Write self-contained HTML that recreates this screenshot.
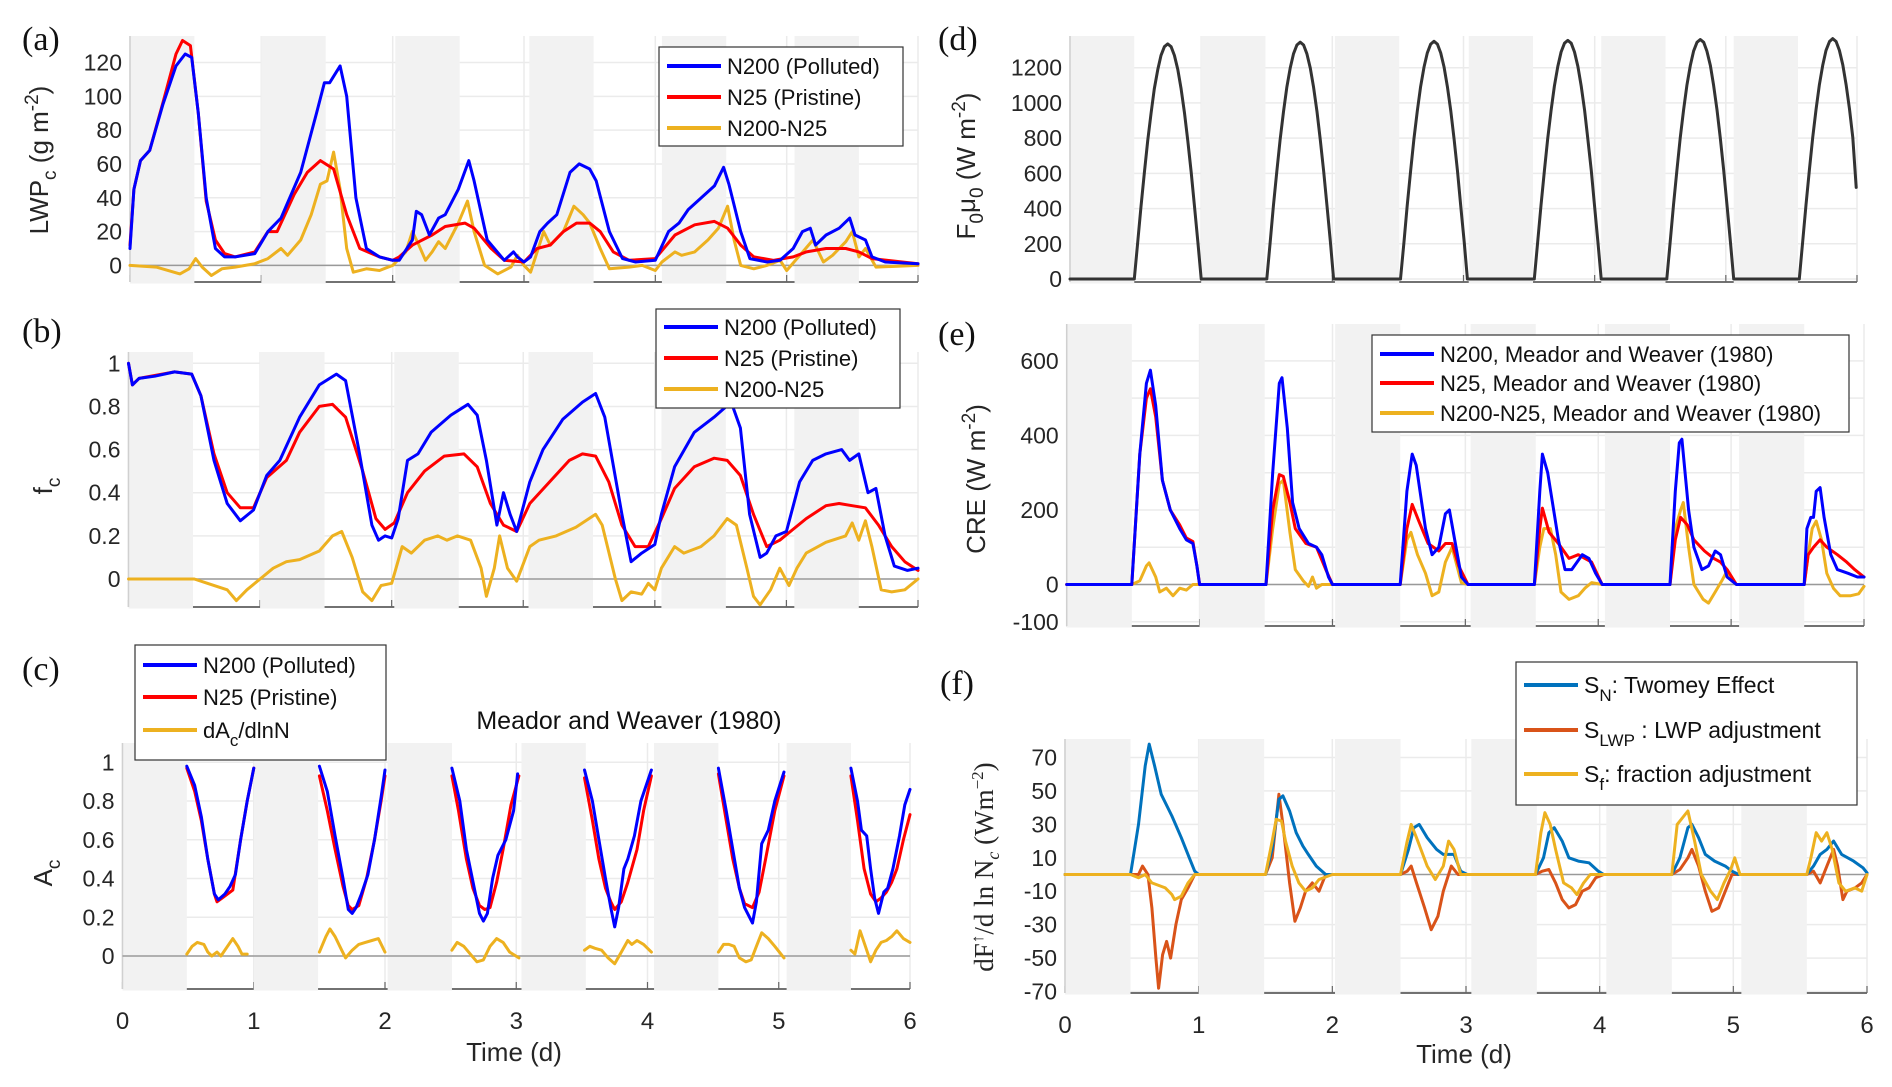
<!DOCTYPE html>
<html><head><meta charset="utf-8">
<style>
html,body{margin:0;padding:0;background:#fff;}
svg{display:block;font-family:"Liberation Sans",sans-serif;}
</style></head>
<body>
<svg id="fig" width="1892" height="1087" viewBox="0 0 1892 1087" xmlns="http://www.w3.org/2000/svg"></svg>
<script>
// ---------- DATA ----------
const bandStarts = [0, 1.0, 2.02, 3.04, 4.05, 5.06];
const bandWidth = 0.49;
const xTicks = [0,1,2,3,4,5,6];

// (a) LWP
const aTicks = [0,20,40,60,80,100,120];
const aBlueT = [0,0.03,0.08,0.15,0.25,0.35,0.42,0.47,0.52,0.58,0.65,0.72,0.8,0.95,1.05,1.15,1.3,1.42,1.48,1.52,1.6,1.65,1.72,1.8,1.9,2.0,2.05,2.15,2.18,2.22,2.28,2.35,2.4,2.5,2.58,2.62,2.72,2.85,2.92,2.95,3.0,3.05,3.12,3.18,3.25,3.35,3.42,3.5,3.55,3.65,3.75,3.85,4.0,4.1,4.18,4.25,4.35,4.45,4.52,4.56,4.65,4.72,4.85,4.95,5.05,5.12,5.18,5.22,5.3,5.4,5.48,5.52,5.6,5.65,5.75,6.0];
const aBlueV = [10,45,62,68,95,118,125,123,90,40,10,5,5,7,20,28,55,90,108,108,118,100,40,10,5,3,3,15,32,30,18,28,30,45,62,50,15,3,8,5,2,5,20,25,30,55,60,57,50,20,4,2,3,20,25,33,40,47,58,48,20,4,2,3,10,20,22,12,18,22,28,18,15,5,2,1];
const aRedT = [0,0.03,0.08,0.15,0.25,0.35,0.4,0.46,0.52,0.58,0.65,0.72,0.8,0.95,1.05,1.12,1.25,1.35,1.45,1.55,1.65,1.75,1.9,2.0,2.05,2.15,2.3,2.4,2.55,2.62,2.75,2.85,3.0,3.1,3.2,3.3,3.4,3.5,3.58,3.68,3.8,4.0,4.15,4.3,4.45,4.55,4.65,4.75,4.9,5.05,5.15,5.3,5.45,5.55,5.65,6.0];
const aRedV = [12,45,62,68,96,125,133,130,90,38,15,7,5,8,20,20,42,55,62,57,30,10,5,3,5,12,18,23,25,22,10,3,2,10,12,20,25,25,20,8,3,4,18,24,26,22,12,5,3,5,8,10,10,8,4,1];
const aDiffT = [0,0.2,0.38,0.45,0.5,0.55,0.62,0.7,0.8,0.95,1.05,1.15,1.2,1.3,1.38,1.45,1.5,1.55,1.6,1.65,1.7,1.8,1.9,2.0,2.1,2.15,2.2,2.25,2.3,2.35,2.4,2.5,2.57,2.62,2.7,2.8,2.9,2.95,3.0,3.05,3.15,3.2,3.3,3.38,3.45,3.5,3.58,3.65,3.8,3.9,4.0,4.05,4.15,4.2,4.3,4.4,4.48,4.55,4.6,4.65,4.75,4.85,4.95,5.0,5.1,5.2,5.28,5.35,5.45,5.5,5.55,5.6,5.68,6.0];
const aDiffV = [0,-1,-5,-2,4,-1,-6,-2,-1,1,4,10,6,15,30,48,50,67,45,10,-4,-2,-3,0,8,20,12,3,8,14,10,25,38,20,0,-5,-1,6,0,-4,20,12,20,35,30,25,10,-2,-1,0,-3,2,8,6,8,15,22,35,15,0,-2,0,3,-3,6,15,2,6,14,20,5,10,-1,0];

// (b) f_c
const bTicks = [0,0.2,0.4,0.6,0.8,1];
const bBlueT = [0,0.03,0.08,0.2,0.35,0.48,0.55,0.65,0.75,0.85,0.95,1.05,1.15,1.3,1.45,1.58,1.65,1.75,1.85,1.9,1.95,2.0,2.05,2.12,2.2,2.3,2.45,2.58,2.65,2.72,2.8,2.85,2.9,2.95,3.05,3.15,3.3,3.45,3.55,3.62,3.75,3.82,3.9,4.0,4.05,4.15,4.3,4.45,4.58,4.65,4.72,4.8,4.85,4.92,5.0,5.1,5.2,5.3,5.42,5.48,5.55,5.62,5.68,5.75,5.82,5.92,6.0];
const bBlueV = [1,0.9,0.93,0.94,0.96,0.95,0.85,0.55,0.35,0.27,0.32,0.48,0.55,0.75,0.9,0.95,0.92,0.6,0.25,0.18,0.2,0.19,0.28,0.55,0.58,0.68,0.76,0.81,0.76,0.55,0.25,0.4,0.3,0.22,0.45,0.6,0.74,0.82,0.86,0.75,0.3,0.08,0.12,0.16,0.3,0.52,0.68,0.75,0.82,0.7,0.3,0.1,0.12,0.2,0.22,0.45,0.55,0.58,0.6,0.55,0.58,0.4,0.42,0.2,0.06,0.04,0.05];
const bRedT = [0,0.03,0.08,0.35,0.48,0.55,0.65,0.75,0.85,0.95,1.05,1.2,1.3,1.45,1.55,1.65,1.78,1.88,1.95,2.02,2.12,2.25,2.4,2.55,2.65,2.75,2.85,2.95,3.05,3.2,3.35,3.45,3.55,3.65,3.75,3.85,3.95,4.05,4.15,4.3,4.45,4.55,4.65,4.75,4.85,4.95,5.05,5.15,5.3,5.4,5.5,5.6,5.7,5.8,5.9,6.0];
const bRedV = [1,0.9,0.93,0.96,0.95,0.85,0.58,0.4,0.33,0.33,0.47,0.55,0.68,0.8,0.81,0.75,0.5,0.28,0.23,0.26,0.4,0.5,0.57,0.58,0.52,0.35,0.25,0.22,0.35,0.45,0.55,0.58,0.57,0.45,0.25,0.15,0.15,0.28,0.42,0.52,0.56,0.55,0.48,0.3,0.15,0.18,0.23,0.28,0.34,0.35,0.34,0.33,0.25,0.15,0.08,0.04];
const bDiffT = [0,0.5,0.6,0.75,0.82,0.9,1.0,1.1,1.2,1.3,1.45,1.55,1.62,1.7,1.78,1.85,1.92,2.0,2.08,2.15,2.25,2.35,2.42,2.5,2.6,2.68,2.72,2.78,2.82,2.88,2.95,3.05,3.12,3.25,3.4,3.55,3.6,3.7,3.75,3.82,3.9,3.95,4.0,4.05,4.15,4.22,4.35,4.45,4.55,4.62,4.7,4.75,4.8,4.88,4.95,5.02,5.08,5.15,5.3,5.45,5.5,5.55,5.6,5.65,5.72,5.8,5.9,6.0];
const bDiffV = [0,0,-0.02,-0.05,-0.1,-0.05,0,0.05,0.08,0.09,0.13,0.2,0.22,0.1,-0.06,-0.1,-0.03,-0.02,0.15,0.12,0.18,0.2,0.18,0.2,0.18,0.05,-0.08,0.05,0.2,0.05,-0.01,0.15,0.18,0.2,0.24,0.3,0.25,0,-0.1,-0.06,-0.07,-0.02,-0.05,0.05,0.15,0.12,0.15,0.2,0.28,0.25,0.05,-0.08,-0.12,-0.05,0.05,-0.03,0.05,0.12,0.17,0.2,0.26,0.18,0.27,0.15,-0.05,-0.06,-0.05,0];

// (c) A_c (null = gap at night)
const cTicks = [0,0.2,0.4,0.6,0.8,1];
const cBlueT = [0.49,0.55,0.6,0.65,0.7,0.73,0.78,0.82,0.86,0.9,0.95,1.0,null,1.5,1.56,1.62,1.68,1.72,1.75,1.78,1.82,1.87,1.92,1.97,2.0,null,2.51,2.57,2.62,2.68,2.72,2.75,2.78,2.82,2.86,2.92,2.98,3.01,null,3.52,3.58,3.63,3.68,3.72,3.75,3.78,3.82,3.85,3.9,3.95,4.03,null,4.54,4.6,4.65,4.7,4.74,4.8,4.83,4.87,4.92,4.97,5.04,null,5.55,5.6,5.63,5.67,5.7,5.73,5.76,5.8,5.83,5.87,5.92,5.96,6.0];
const cBlueV = [0.98,0.88,0.72,0.5,0.32,0.29,0.32,0.36,0.42,0.6,0.8,0.97,null,0.98,0.85,0.62,0.4,0.24,0.22,0.25,0.32,0.42,0.6,0.82,0.96,null,0.97,0.8,0.55,0.35,0.22,0.18,0.22,0.4,0.52,0.6,0.75,0.94,null,0.96,0.8,0.6,0.4,0.25,0.15,0.25,0.45,0.5,0.62,0.8,0.96,null,0.97,0.75,0.55,0.35,0.25,0.17,0.28,0.58,0.65,0.8,0.95,null,0.97,0.8,0.65,0.62,0.45,0.3,0.22,0.33,0.35,0.45,0.62,0.78,0.86];
const cRedT = [0.49,0.55,0.6,0.65,0.7,0.72,0.76,0.8,0.84,0.9,0.95,1.0,null,1.5,1.56,1.62,1.68,1.72,1.75,1.8,1.86,1.92,1.97,2.0,null,2.51,2.56,2.62,2.67,2.72,2.76,2.8,2.85,2.9,2.96,3.02,null,3.52,3.58,3.63,3.68,3.72,3.75,3.8,3.85,3.92,3.97,4.03,null,4.54,4.6,4.65,4.7,4.74,4.8,4.85,4.9,4.97,5.04,null,5.55,5.6,5.65,5.7,5.74,5.78,5.82,5.86,5.9,5.95,6.0];
const cRedV = [0.97,0.85,0.7,0.5,0.32,0.28,0.3,0.32,0.34,0.6,0.8,0.97,null,0.93,0.75,0.55,0.36,0.26,0.24,0.26,0.4,0.6,0.8,0.93,null,0.93,0.75,0.5,0.35,0.26,0.24,0.25,0.38,0.55,0.78,0.93,null,0.92,0.7,0.5,0.35,0.28,0.24,0.28,0.38,0.55,0.75,0.93,null,0.94,0.7,0.5,0.35,0.27,0.25,0.33,0.5,0.75,0.93,null,0.93,0.7,0.45,0.32,0.28,0.3,0.33,0.38,0.45,0.6,0.73];
const cDiffT = [0.49,0.53,0.57,0.62,0.65,0.68,0.72,0.75,0.8,0.84,0.88,0.91,0.95,null,1.5,1.55,1.58,1.62,1.67,1.7,1.75,1.8,1.85,1.9,1.95,2.0,null,2.51,2.55,2.6,2.65,2.7,2.75,2.8,2.85,2.9,2.95,3.02,null,3.52,3.56,3.6,3.65,3.7,3.75,3.8,3.85,3.88,3.92,3.97,4.03,null,4.54,4.58,4.62,4.66,4.7,4.75,4.79,4.83,4.87,4.92,4.97,5.04,null,5.55,5.58,5.62,5.66,5.7,5.74,5.78,5.82,5.86,5.9,5.95,6.0];
const cDiffV = [0.01,0.05,0.07,0.06,0.02,0,0.02,0,0.05,0.09,0.05,0.01,0.01,null,0.02,0.1,0.14,0.1,0.03,-0.01,0.03,0.06,0.07,0.08,0.09,0.02,null,0.03,0.07,0.05,0.01,-0.03,-0.02,0.05,0.09,0.07,0.02,-0.01,null,0.03,0.05,0.04,0.03,-0.01,-0.04,0.02,0.08,0.06,0.08,0.06,0.02,null,0.02,0.06,0.06,0.05,-0.01,-0.03,-0.02,0.05,0.12,0.09,0.05,-0.01,null,0.03,0.01,0.13,0.05,-0.03,0.03,0.07,0.08,0.1,0.13,0.09,0.07];

// (d) F0 mu0
const dTicks = [0,200,400,600,800,1000,1200];
const dT = [0,
 0.49,0.516,0.541,0.567,0.592,0.618,0.643,0.669,0.694,0.72,0.745,0.771,0.796,0.822,0.847,0.873,0.898,0.924,0.949,0.975,1.0,
 1.5,1.526,1.551,1.577,1.602,1.628,1.653,1.679,1.704,1.73,1.755,1.781,1.806,1.832,1.857,1.883,1.908,1.934,1.959,1.985,2.01,
 2.52,2.546,2.571,2.597,2.622,2.648,2.673,2.699,2.724,2.75,2.775,2.801,2.826,2.852,2.877,2.903,2.928,2.954,2.979,3.005,3.03,
 3.54,3.566,3.591,3.617,3.642,3.668,3.693,3.719,3.744,3.77,3.795,3.821,3.846,3.872,3.897,3.923,3.948,3.974,3.999,4.025,4.05,
 4.55,4.576,4.601,4.627,4.652,4.678,4.703,4.729,4.754,4.78,4.805,4.831,4.856,4.882,4.907,4.933,4.958,4.984,5.009,5.035,5.06,
 5.56,5.586,5.611,5.637,5.662,5.688,5.713,5.739,5.764,5.79,5.815,5.841,5.866,5.892,5.917,5.943,5.968,5.994];
const dV = [0,
 0,208,412,606,785,943,1080,1190,1270,1319,1335,1319,1270,1190,1080,943,785,606,412,208,0,
 0,210,415,610,790,950,1088,1198,1279,1329,1345,1329,1279,1198,1088,950,790,610,415,210,0,
 0,211,417,613,794,954,1092,1203,1284,1334,1350,1334,1284,1203,1092,954,794,613,417,211,0,
 0,211,418,615,797,958,1096,1207,1289,1339,1355,1339,1289,1207,1096,958,797,615,418,211,0,
 0,212,420,617,800,961,1100,1212,1294,1344,1360,1344,1294,1212,1100,961,800,617,420,212,0,
 0,213,421,620,803,965,1104,1216,1298,1349,1365,1349,1298,1216,1104,965,803,520];

// (e) CRE
const eTicks = [-100,0,200,400,600];
const eGrid = [-100,0,100,200,300,400,500,600];
const eBlueT = [0,0.49,0.55,0.6,0.63,0.67,0.72,0.78,0.85,0.9,0.95,0.98,1.0,1.5,1.55,1.6,1.62,1.66,1.7,1.75,1.82,1.88,1.92,1.97,2.0,2.51,2.56,2.6,2.63,2.7,2.75,2.8,2.85,2.88,2.92,2.97,3.02,3.52,3.56,3.58,3.62,3.7,3.75,3.8,3.88,3.93,3.98,4.03,4.54,4.58,4.61,4.63,4.68,4.72,4.78,4.83,4.88,4.92,4.97,5.04,5.55,5.57,5.6,5.62,5.64,5.67,5.7,5.75,5.8,5.88,5.95,6.0];
const eBlueV = [0,0,350,540,575,480,280,200,150,120,110,50,0,0,300,540,555,420,220,150,110,100,80,20,0,0,250,350,320,150,80,100,190,200,120,20,0,0,250,350,300,120,40,40,80,70,30,0,0,250,380,390,200,100,40,50,90,80,20,0,0,150,180,180,250,260,180,80,40,30,20,20];
const eRedT = [0,0.49,0.55,0.6,0.63,0.67,0.72,0.78,0.85,0.9,0.95,0.98,1.0,1.5,1.55,1.6,1.63,1.68,1.72,1.8,1.88,1.95,2.0,2.51,2.56,2.6,2.65,2.72,2.8,2.85,2.9,2.95,3.02,3.52,3.56,3.58,3.63,3.7,3.78,3.85,3.9,3.95,4.03,4.54,4.58,4.62,4.67,4.72,4.8,4.87,4.92,4.97,5.04,5.55,5.58,5.62,5.67,5.72,5.8,5.87,5.93,6.0];
const eRedV = [0,0,350,500,525,450,280,200,160,125,115,50,0,0,200,295,290,220,150,110,100,40,0,0,150,215,170,110,90,110,110,50,0,0,150,205,140,110,70,80,70,60,0,0,120,180,160,120,90,70,60,40,0,0,80,100,120,100,80,60,40,20];
const eDiffT = [0,0.49,0.55,0.6,0.62,0.67,0.7,0.75,0.8,0.85,0.9,0.95,1.0,1.5,1.55,1.6,1.63,1.68,1.72,1.78,1.82,1.85,1.88,1.92,2.0,2.51,2.56,2.59,2.64,2.7,2.75,2.8,2.85,2.9,2.93,2.97,3.02,3.52,3.56,3.59,3.64,3.68,3.72,3.78,3.85,3.9,3.95,4.03,4.54,4.58,4.62,4.64,4.68,4.72,4.79,4.83,4.88,4.93,4.96,5.04,5.55,5.58,5.61,5.64,5.68,5.72,5.77,5.82,5.9,5.96,6.0];
const eDiffV = [0,0,10,50,58,20,-20,-10,-30,-10,-15,0,0,0,150,270,280,140,40,10,-5,20,-10,0,0,0,120,140,80,30,-30,-20,60,100,60,5,0,0,100,150,150,80,-20,-40,-30,-10,5,0,0,150,200,220,100,0,-40,-50,-20,10,30,0,0,80,150,170,120,30,-10,-30,-30,-25,-5];

// (f) sensitivities
const fTicks = [-70,-50,-30,-10,10,30,50,70];
const fSnT = [0,0.49,0.55,0.6,0.63,0.67,0.72,0.8,0.87,0.93,0.97,1.0,1.5,1.55,1.6,1.63,1.68,1.73,1.78,1.82,1.88,1.95,2.51,2.57,2.61,2.65,2.71,2.78,2.83,2.91,2.96,3.01,3.52,3.58,3.62,3.66,3.72,3.77,3.84,3.92,3.99,4.03,4.54,4.6,4.66,4.69,4.74,4.79,4.86,4.94,4.99,5.04,5.55,5.6,5.65,5.7,5.75,5.81,5.9,5.97,6.0];
const fSnV = [0,0,30,65,78,65,48,35,22,10,2,0,0,15,45,47,38,25,17,12,5,0,0,15,28,30,22,15,12,12,2,0,0,10,25,28,20,10,8,7,2,0,0,10,28,30,22,12,8,5,2,0,0,5,12,15,20,12,8,4,1];
const fSlwpT = [0,0.49,0.55,0.58,0.62,0.65,0.68,0.7,0.73,0.76,0.79,0.83,0.87,0.92,0.97,1.5,1.55,1.6,1.63,1.68,1.72,1.76,1.8,1.85,1.9,1.95,2.0,2.51,2.56,2.59,2.63,2.69,2.74,2.79,2.83,2.89,2.94,3.02,3.52,3.57,3.62,3.67,3.72,3.77,3.82,3.87,3.92,3.97,4.03,4.54,4.6,4.66,4.69,4.74,4.79,4.84,4.89,4.94,4.99,5.04,5.55,5.6,5.65,5.7,5.75,5.78,5.82,5.85,5.91,5.96,6.0];
const fSlwpV = [0,0,0,5,0,-20,-50,-68,-48,-40,-50,-30,-15,-8,0,0,10,48,30,-5,-28,-20,-10,-5,-10,0,0,0,2,5,-5,-20,-33,-25,-10,5,0,0,0,2,3,-5,-15,-20,-18,-10,-8,-2,0,0,3,10,15,5,-10,-22,-20,-10,0,0,0,2,-5,5,15,5,-15,-10,-8,-5,0];
const fSfT = [0,0.49,0.55,0.6,0.65,0.75,0.8,0.82,0.87,0.92,0.97,1.5,1.55,1.58,1.62,1.65,1.7,1.75,1.8,1.85,1.9,2.0,2.51,2.56,2.59,2.63,2.71,2.77,2.83,2.87,2.91,2.96,3.52,3.56,3.59,3.63,3.67,3.73,3.79,3.83,3.88,3.93,4.54,4.58,4.63,4.66,4.71,4.76,4.83,4.88,4.93,4.98,5.01,5.05,5.55,5.58,5.62,5.66,5.7,5.74,5.79,5.84,5.91,5.96,6.0];
const fSfV = [0,0,-2,0,-5,-8,-12,-15,-13,-5,0,0,20,33,32,20,5,-5,-10,-8,-3,0,0,20,30,22,5,-3,5,20,15,0,0,25,37,30,15,-5,-8,-12,-5,0,0,30,35,38,20,0,-10,-15,-5,3,10,0,0,10,25,20,25,15,-5,-10,-8,-10,0];

// ---------- DRAWING ----------
const NS = "http://www.w3.org/2000/svg";
const svg = document.getElementById("fig");
function mk(tag, attrs, parent){
  const e = document.createElementNS(NS, tag);
  for (const k in attrs) e.setAttribute(k, attrs[k]);
  (parent||svg).appendChild(e);
  return e;
}
function makeAxes(p){
  p.sx = t => p.xl + (p.xr - p.xl) * t / 6;
  p.sy = v => p.py0 + (v - p.v0) * (p.py1 - p.py0) / (p.v1 - p.v0);
  const g = mk("g", {});
  
  
  (p.grid || p.ticks).forEach(v => {
    const l = mk("line", {x1:p.xl, x2:p.xr, y1:p.sy(v), y2:p.sy(v), stroke:"#ebebeb", "stroke-width":1.5}, g);
    
    
  });
  xTicks.forEach(t => {
    const l = mk("line", {x1:p.sx(t), x2:p.sx(t), y1:p.top, y2:p.bot, stroke:"#ebebeb", "stroke-width":1.5}, g);
    
    
  });
  const ax = mk("line", {x1:p.xl, x2:p.xr, y1:p.bot, y2:p.bot, stroke:"#444", "stroke-width":1.5}, g);
  
  
  xTicks.forEach(t => {
    const l = mk("line", {x1:p.sx(t), x2:p.sx(t), y1:p.bot-7, y2:p.bot, stroke:"#666", "stroke-width":1.2}, g);
    
    
  });
  bandStarts.forEach(s => {
    const r = mk("rect", {x:p.sx(s), y:p.top, width:p.sx(s+bandWidth)-p.sx(s), height:p.bot-p.top+1.5, fill:"#f2f2f2"}, g);
    
    
  });
  const la = mk("line", {x1:p.xl, x2:p.xl, y1:p.top, y2:p.bot, stroke:"#d0d0d0", "stroke-width":1.5}, g);
  
  
  if (p.zero) {
    const z = mk("line", {x1:p.xl, x2:p.xr, y1:p.sy(0), y2:p.sy(0), stroke:"#999", "stroke-width":1.5}, g);
    
    
  }
  p.ticks.forEach(v => {
    const t = mk("text", {x:p.xl-8, y:p.sy(v)+8, "text-anchor":"end", "font-size":23, fill:"#262626"}, g);
    t.textContent = String(v);
    
    
  });
  if (p.xlabels) {
    xTicks.forEach(v => {
      const t = mk("text", {x:p.sx(v), y:p.bot+40, "text-anchor":"middle", "font-size":24, fill:"#262626"}, g);
      t.textContent = String(v);
      
      
    });
  }
  return p;
}
function line(p, T, V, color, name, w){
  let d = "", pen = false;
  for (let i = 0; i < T.length; i++) {
    if (T[i] === null || V[i] === null) { pen = false; continue; }
    d += (pen ? "L" : "M") + p.sx(T[i]).toFixed(1) + "," + p.sy(V[i]).toFixed(1);
    pen = true;
  }
  const e = mk("path", {d:d, fill:"none", stroke:color, "stroke-width":w||3, "stroke-linejoin":"round", "stroke-linecap":"round"});
  
  
}
function panelLabel(txt, x, y, name){
  const t = mk("text", {x:x, y:y, "font-family":"Liberation Serif, serif", "font-size":34, fill:"#111"});
  t.textContent = txt;
  
  
}
function ylabel(html, x, y, name, serif){
  const t = mk("text", {x:0, y:0, transform:`translate(${x},${y}) rotate(-90)`, "text-anchor":"middle", "font-size":serif?27:26, fill:"#262626", "font-family":serif?"Liberation Serif, serif":"Liberation Sans, sans-serif"});
  t.innerHTML = html;
  
  
}
function legend(x, y, w, h, items, name, fs){
  const g = mk("g", {});
  
  
  const r = mk("rect", {x:x, y:y, width:w, height:h, fill:"#fff", stroke:"#333", "stroke-width":1.2}, g);
  
  
  items.forEach(it => {
    const l = mk("line", {x1:x+8, x2:x+62, y1:it.y, y2:it.y, stroke:it.c, "stroke-width":4}, g);
    
    
    const t = mk("text", {x:x+68, y:it.y+8, "font-size":fs||22, fill:"#111"}, g);
    t.innerHTML = it.t;
    
    
  });
}
const BLUE="#0000ff", RED="#ff0000", YEL="#edb120";

// (a)
const pa = makeAxes({name:"panel-a", xl:130, xr:918, top:36, bot:282, v0:0, py0:265.4, v1:120, py1:62.5, ticks:aTicks, zero:true});
line(pa, aDiffT, aDiffV, YEL, "series-a-n200-n25");
line(pa, aRedT, aRedV, RED, "series-a-n25");
line(pa, aBlueT, aBlueV, BLUE, "series-a-n200");
panelLabel("(a)", 22, 50, "panel-label-a");
ylabel('LWP<tspan dy="8" font-size="19">c</tspan><tspan dy="-8"> (g m</tspan><tspan dy="-10" font-size="19">-2</tspan><tspan dy="10">)</tspan>', 48, 160, "y-axis-title-a");
legend(659, 47, 244, 99, [{y:66,c:BLUE,t:"N200 (Polluted)"},{y:97,c:RED,t:"N25 (Pristine)"},{y:128,c:YEL,t:"N200-N25"}], "legend-a");

// (b)
const pb = makeAxes({name:"panel-b", xl:128.5, xr:918, top:352, bot:607, v0:0, py0:579, v1:1, py1:363.3, ticks:bTicks, zero:true});
line(pb, bDiffT, bDiffV, YEL, "series-b-n200-n25");
line(pb, bRedT, bRedV, RED, "series-b-n25");
line(pb, bBlueT, bBlueV, BLUE, "series-b-n200");
panelLabel("(b)", 22, 342, "panel-label-b");
ylabel('f<tspan dy="8" font-size="19">c</tspan>', 52, 486, "y-axis-title-b");
legend(656, 309, 244, 99, [{y:327,c:BLUE,t:"N200 (Polluted)"},{y:358,c:RED,t:"N25 (Pristine)"},{y:389,c:YEL,t:"N200-N25"}], "legend-b");

// (c)
const pc = makeAxes({name:"panel-c", xl:122.5, xr:910, top:743, bot:989, v0:0, py0:956, v1:1, py1:762.3, ticks:cTicks, zero:true, xlabels:true});
line(pc, cDiffT, cDiffV, YEL, "series-c-dac-dlnn");
line(pc, cRedT, cRedV, RED, "series-c-n25");
line(pc, cBlueT, cBlueV, BLUE, "series-c-n200");
panelLabel("(c)", 22, 680, "panel-label-c");
ylabel('A<tspan dy="8" font-size="19">c</tspan>', 52, 873, "y-axis-title-c");
legend(135, 645, 251, 115, [{y:665,c:BLUE,t:"N200 (Polluted)"},{y:697,c:RED,t:"N25 (Pristine)"},{y:730,c:YEL,t:'dA<tspan dy="8" font-size="17">c</tspan><tspan dy="-8">/dlnN</tspan>'}], "legend-c");
(function(){ const t = mk("text", {x:629, y:729, "text-anchor":"middle", "font-size":25, fill:"#111"}); t.textContent = "Meador and Weaver (1980)";  
 const x = mk("text", {x:514, y:1061, "text-anchor":"middle", "font-size":26, fill:"#262626"}); x.textContent = "Time (d)";   })();

// (d)
const pd = makeAxes({name:"panel-d", xl:1070, xr:1857, top:36, bot:282, v0:0, py0:279, v1:1200, py1:67.7, ticks:dTicks, zero:false});
line(pd, dT, dV, "#333", "series-d-f0mu0");
panelLabel("(d)", 938, 50, "panel-label-d");
ylabel('F<tspan dy="8" font-size="19">0</tspan><tspan dy="-8">μ</tspan><tspan dy="8" font-size="19">0</tspan><tspan dy="-8">  (W m</tspan><tspan dy="-10" font-size="19">-2</tspan><tspan dy="10">)</tspan>', 975, 166, "y-axis-title-d");

// (e)
const pe = makeAxes({name:"panel-e", xl:1066.7, xr:1864, top:324, bot:626, v0:0, py0:584.5, v1:600, py1:360.9, ticks:eTicks, grid:eGrid, zero:true});
line(pe, eDiffT, eDiffV, YEL, "series-e-n200-n25");
line(pe, eRedT, eRedV, RED, "series-e-n25");
line(pe, eBlueT, eBlueV, BLUE, "series-e-n200");
panelLabel("(e)", 938, 345, "panel-label-e");
ylabel('CRE (W m<tspan dy="-10" font-size="19">-2</tspan><tspan dy="10">)</tspan>', 985, 479, "y-axis-title-e");
legend(1372, 335, 477, 97, [{y:354,c:BLUE,t:"N200, Meador and Weaver (1980)"},{y:383,c:RED,t:"N25, Meador and Weaver (1980)"},{y:413,c:YEL,t:"N200-N25, Meador and Weaver (1980)"}], "legend-e");

// (f)
const FB="#0072bd", FO="#d95319";
const pf = makeAxes({name:"panel-f", xl:1065, xr:1867, top:739, bot:993, v0:0, py0:874.5, v1:70, py1:757.5, ticks:fTicks, zero:true, xlabels:true});
line(pf, fSlwpT, fSlwpV, FO, "series-f-s-lwp");
line(pf, fSnT, fSnV, FB, "series-f-s-n");
line(pf, fSfT, fSfV, YEL, "series-f-s-f");
panelLabel("(f)", 940, 694, "panel-label-f");
ylabel('dF<tspan dy="-10" font-size="17">↑</tspan><tspan dy="10">/d ln N</tspan><tspan dy="6" font-size="18" font-style="italic">c</tspan><tspan dy="-6"> (Wm</tspan><tspan dy="-10" font-size="17">−2</tspan><tspan dy="10">)</tspan>', 993, 867, "y-axis-title-f", true);
legend(1516, 662, 341, 143, [{y:685,c:FB,t:'S<tspan dy="8" font-size="17">N</tspan><tspan dy="-8">: Twomey Effect</tspan>'},{y:730,c:FO,t:'S<tspan dy="8" font-size="17">LWP</tspan><tspan dy="-8"> : LWP adjustment</tspan>'},{y:774,c:YEL,t:'S<tspan dy="8" font-size="17">f</tspan><tspan dy="-8">: fraction adjustment</tspan>'}], "legend-f", 23);
(function(){ const x = mk("text", {x:1464, y:1063, "text-anchor":"middle", "font-size":26, fill:"#262626"}); x.textContent = "Time (d)";   })();
</script>
</body></html>
